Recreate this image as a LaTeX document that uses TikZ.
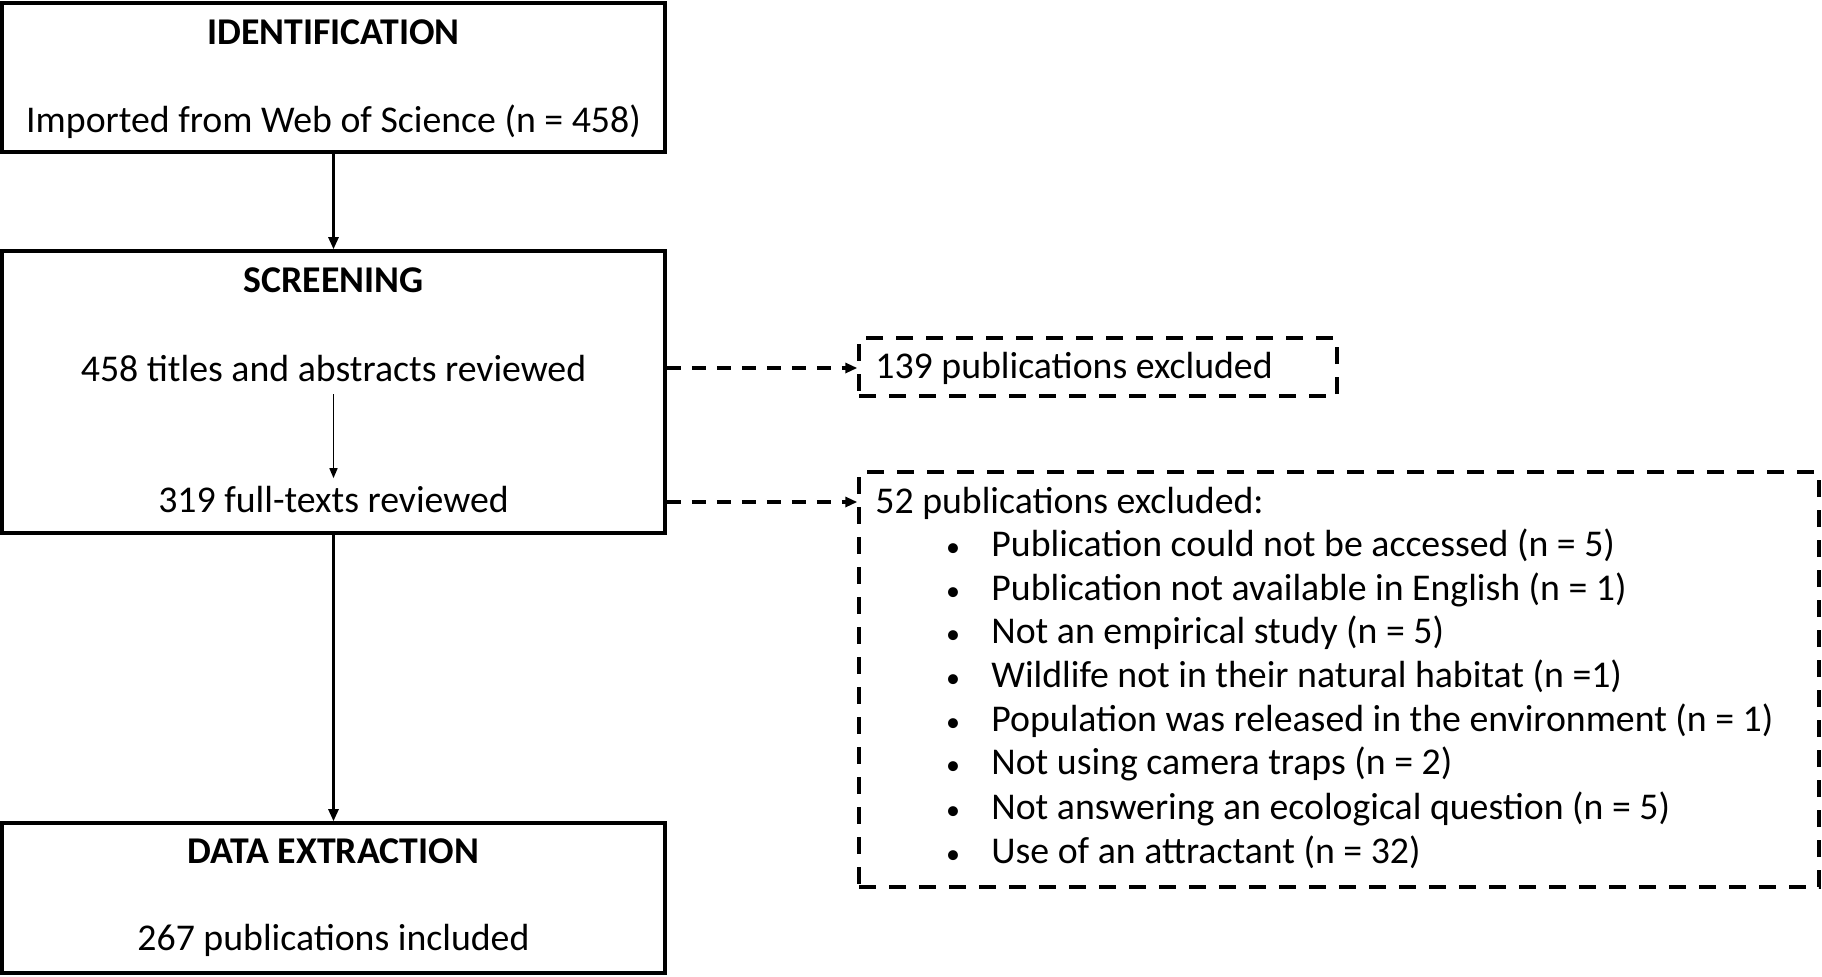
\documentclass[tikz,border=0pt]{standalone}
\usepackage{fontspec}
\setmainfont{Carlito}
\usetikzlibrary{arrows.meta}
\begin{document}
\begin{tikzpicture}[x=0.5pt,y=-0.5pt,
  stage/.style={draw, line width=1.8pt, minimum width=331.5pt, inner sep=0pt},
  exbox/.style={draw, line width=1.7pt, dash pattern=on 8.5pt off 6.5pt, inner sep=0pt},
  txt/.style={inner sep=0pt, font=\fontsize{18.9}{22}\selectfont},
  head/.style={txt, font=\fontsize{18.9}{22}\selectfont\bfseries},
  bul/.style={inner sep=0pt, font=\fontsize{14}{16}\selectfont},
  flow/.style={line width=1.3pt, -{Triangle[length=6pt,width=5pt]}},
  thin/.style={line width=0.8pt, -{Triangle[length=5pt,width=4pt]}},
  dflow/.style={line width=1.6pt, dash pattern=on 7pt off 5.5pt, -{Triangle[length=6pt,width=5pt]}}]
\useasboundingbox (0,0) rectangle (1822,976);
% stage boxes
\node[stage, minimum height=74.5pt] (ident) at (333.5,77.5) {};
\node[stage, minimum height=141pt] (screen) at (333.5,392) {};
\node[stage, minimum height=75pt] (extract) at (333.5,898) {};
% exclusion boxes
\node[exbox, minimum width=239pt, minimum height=29pt] (ex1) at (1098,367) {};
\node[exbox, minimum width=480pt, minimum height=207.5pt] (ex2) at (1339,679.5) {};
% texts
\node[head, anchor=mid] (identT) at (333.5,40) {IDENTIFICATION};
\node[txt, anchor=mid] (identN) at (333.5,128) {Imported from Web of Science (n = 458)};
\node[head, anchor=mid] (screenT) at (333.5,288) {SCREENING};
\node[txt, anchor=mid] (tA) at (333.5,377) {458 titles and abstracts reviewed};
\node[txt, anchor=mid] (tF) at (333.5,508) {319 full-texts reviewed};
\node[head, anchor=mid] (extractT) at (333.5,859) {DATA EXTRACTION};
\node[txt, anchor=mid] (extractN) at (333.5,946) {267 publications included};
\node[txt, anchor=mid west] (ex1T) at (875,374) {139 publications excluded};
\node[txt, anchor=mid west] (ex2T) at (875,509) {52 publications excluded:};
\foreach \i/\yy/\t in {1/552/{Publication could not be accessed (n = 5)},
  2/596/{Publication not available in English (n = 1)},
  3/639/{Not an empirical study (n = 5)},
  4/683/{Wildlife not in their natural habitat (n =1)},
  5/727/{Population was released in the environment (n = 1)},
  6/770/{Not using camera traps (n = 2)},
  7/815/{Not answering an ecological question (n = 5)},
  8/859/{Use of an attractant (n = 32)}}{
  \node[bul, anchor=mid] (b\i) at (953,\yy) {•};
  \node[txt, anchor=mid west] (l\i) at (991,\yy) {\t};
}
% connectors
\draw[flow] (ident.south) -- (screen.north);
\draw[flow] (screen.south) -- (extract.north);
\draw[thin] ([yshift=-6pt]tA.south) -- ([yshift=4pt]tF.north);
\draw[dflow] (screen.east |- 0,368) -- (ex1.west |- 0,368);
\draw[dflow] (screen.east |- 0,502) -- (ex2.west |- 0,502);
\end{tikzpicture}
\end{document}
